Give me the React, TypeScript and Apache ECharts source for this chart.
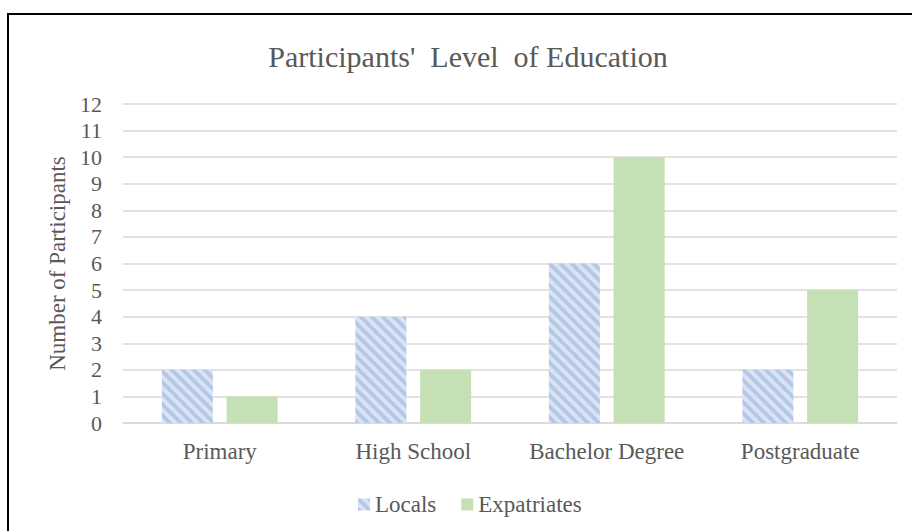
import React, { useEffect, useRef } from "react";
import * as echarts from "echarts";

const categories = ["Primary", "High School", "Bachelor Degree", "Postgraduate"];
const locals = [2, 4, 6, 2];
const expatriates = [1, 2, 10, 5];
const yTicks = { min: 0, max: 12, interval: 1 };

const FONT = "Liberation Serif";
const TEXT = "#595959";

function makeHatch(): string {
  const c = document.createElement("canvas");
  const s = 11;
  c.width = s;
  c.height = s;
  const ctx = c.getContext("2d")!;
  ctx.fillStyle = "#dae3f3";
  ctx.fillRect(0, 0, s, s);
  ctx.strokeStyle = "#b4c7e7";
  ctx.lineWidth = 3.8;
  for (let k = -1; k <= 1; k++) {
    ctx.beginPath();
    ctx.moveTo(k * s - 2, -2);
    ctx.lineTo(k * s + s + 2, s + 2);
    ctx.stroke();
  }
  return c.toDataURL("image/png");
}

export default function App() {
  const ref = useRef<HTMLDivElement>(null);
  useEffect(() => {
    if (!ref.current) return;
    const chart = echarts.init(ref.current, undefined, { renderer: "svg" });
    const hatch = makeHatch();
    chart.setOption({
      animation: false,
      backgroundColor: "#ffffff",
      textStyle: { fontFamily: FONT },
      graphic: [
        {
          type: "rect",
          shape: { x: 8, y: 14, width: 1200, height: 1200 },
          style: { fill: "none", stroke: "#000000", lineWidth: 2 },
          silent: true,
        },
        {
          type: "text",
          x: 468,
          y: 56,
          style: {
            text: "Participants'  Level  of Education",
            fontFamily: FONT,
            fontSize: 30,
            fill: TEXT,
            textAlign: "center",
            textVerticalAlign: "middle",
          },
        },
      ],
      legend: {
        bottom: 10,
        left: 353,
        itemWidth: 12,
        itemHeight: 12,
        itemGap: 25,
        icon: "rect",
        textStyle: { fontFamily: FONT, fontSize: 23, color: TEXT },
        data: ["Locals", "Expatriates"],
      },
      grid: { left: 123, right: 15, top: 104, bottom: 108, containLabel: false },
      xAxis: {
        type: "category",
        data: categories,
        axisLine: { show: true, lineStyle: { color: "#d9d9d9", width: 1.5 } },
        axisTick: { show: false },
        axisLabel: { interval: 0, fontFamily: FONT, fontSize: 23, color: TEXT, margin: 17 },
      },
      yAxis: {
        type: "value",
        min: yTicks.min,
        max: yTicks.max,
        interval: yTicks.interval,
        name: "Number of Participants",
        nameLocation: "middle",
        nameGap: 54,
        nameTextStyle: { fontFamily: FONT, fontSize: 23, color: TEXT },
        axisLine: { show: false },
        axisTick: { show: false },
        axisLabel: { fontFamily: FONT, fontSize: 22, color: TEXT, margin: 21 },
        splitLine: { lineStyle: { color: "#d9d9d9", width: 1.5 } },
      },
      series: [
        {
          name: "Locals",
          type: "bar",
          data: locals,
          barWidth: 51,
          barGap: "27%",
          itemStyle: { color: { image: hatch, repeat: "repeat" } },
        },
        {
          name: "Expatriates",
          type: "bar",
          data: expatriates,
          barWidth: 51,
          barGap: "27%",
          itemStyle: { color: "#c5e0b4" },
        },
      ],
    });
    return () => chart.dispose();
  }, []);
  return (
    <div
      ref={ref}
      style={{ position: "fixed", left: 0, top: 0, width: 912, height: 531 }}
    />
  );
}
